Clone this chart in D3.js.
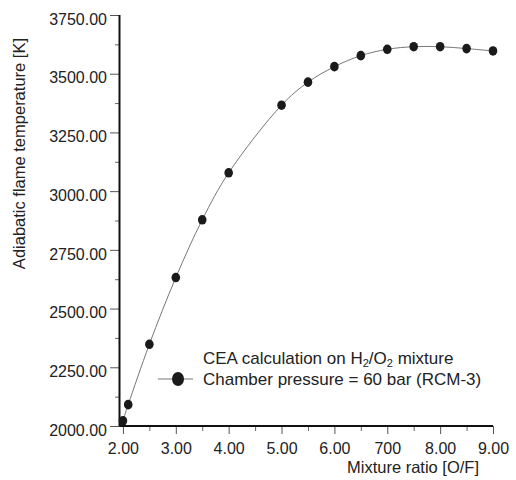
<!DOCTYPE html>
<html>
<head>
<meta charset="utf-8">
<script src="https://cdn.jsdelivr.net/npm/d3@7"></script>
<style>
  body { margin: 0; background: #fff; }
  svg { font-family: "Liberation Sans", Arial, sans-serif; }
</style>
</head>
<body>
<svg id="chart" width="516" height="480"></svg>
<script>
// O/F ratio and adiabatic flame temperature
const ratio = [2.0, 2.1, 2.5, 3.0, 3.5, 4.0, 5.0, 5.5, 6.0, 6.5, 7.0, 7.5, 8.0, 8.5, 9.0];
const temp  = [2022, 2091, 2348, 2632, 2878, 3078, 3366, 3464, 3530, 3577, 3604, 3615, 3615, 3607, 3597];

const xTicks = [2, 3, 4, 5, 6, 7, 8, 9];
const xTickLabels = ["2.00", "3.00", "4.00", "5.00", "6.00", "700", "8.00", "9.00"];
const yTicks = [2000, 2250, 2500, 2750, 3000, 3250, 3500, 3750];

const svg = d3.select("#chart");

const x = d3.scaleLinear().domain([1.935, 9]).range([119.5, 493]);
const y = d3.scaleLinear().domain([2000, 3750]).range([426, 15]);

// minor ticks
const xAxisMinor = d3.axisBottom(x).tickValues(d3.range(2.5, 9, 1)).tickSize(5).tickFormat("");
const yAxisMinor = d3.axisLeft(y).tickValues(d3.range(2125, 3750, 250)).tickSize(5).tickFormat("");

svg.append("g").attr("transform", "translate(0,426)").call(xAxisMinor)
  .call(g => g.select(".domain").remove())
  .selectAll("line").attr("stroke", "#666");
svg.append("g").attr("transform", "translate(120,0)").call(yAxisMinor)
  .call(g => g.select(".domain").remove())
  .selectAll("line").attr("stroke", "#666");

// major ticks
const xAxis = d3.axisBottom(x).tickValues(xTicks).tickSize(8).tickPadding(9)
  .tickFormat((d, i) => xTickLabels[i]);
const yAxis = d3.axisLeft(y).tickValues(yTicks).tickSize(10).tickPadding(3)
  .tickFormat(d3.format(".2f"));

svg.append("g").attr("transform", "translate(0,426)").call(xAxis)
  .call(g => g.select(".domain").remove())
  .call(g => g.selectAll("line").attr("stroke", "#555"))
  .call(g => g.selectAll("text").attr("font-size", 16).attr("fill", "#222")
    .attr("font-family", "Liberation Sans, Arial, sans-serif"));

svg.append("g").attr("transform", "translate(120,0)").call(yAxis)
  .call(g => g.select(".domain").remove())
  .call(g => g.selectAll("line").attr("stroke", "#555"))
  .call(g => g.selectAll("text").attr("font-size", 16).attr("fill", "#222")
    .attr("dy", "0.95em").attr("y", -6)
    .attr("font-family", "Liberation Sans, Arial, sans-serif"));

// axis lines
svg.append("line").attr("x1", 119.5).attr("x2", 119.5).attr("y1", y(3750)).attr("y2", 426)
  .attr("stroke", "#111").attr("stroke-width", 2);
svg.append("line").attr("x1", 119.5).attr("x2", x(9)).attr("y1", 426).attr("y2", 426)
  .attr("stroke", "#111").attr("stroke-width", 2);

// curve
const pts = ratio.map((r, i) => ({r: r, t: temp[i]}));
const line = d3.line().x(d => x(d.r)).y(d => y(d.t)).curve(d3.curveCatmullRom);

svg.append("path").datum(pts).attr("d", line)
  .attr("fill", "none").attr("stroke", "#777").attr("stroke-width", 1);

svg.append("g").selectAll("ellipse").data(pts).enter().append("ellipse")
  .attr("cx", d => x(d.r)).attr("cy", d => y(d.t))
  .attr("rx", 4.3).attr("ry", 4.8).attr("fill", "#1a1a1a");

// axis titles
svg.append("text").attr("x", 479).attr("y", 473).attr("text-anchor", "end")
  .attr("font-size", 16.5).attr("fill", "#222").text("Mixture ratio [O/F]");

svg.append("text").attr("transform", "translate(25,38) rotate(-90)")
  .attr("text-anchor", "end").attr("font-size", 16.5).attr("fill", "#222")
  .text("Adiabatic flame temperature [K]");

// legend
const legend = svg.append("g");
const t1 = legend.append("text").attr("x", 203).attr("y", 364).attr("font-size", 17).attr("fill", "#222");
t1.append("tspan").text("CEA calculation on H");
t1.append("tspan").text("2").attr("font-size", 11).attr("dy", 3);
t1.append("tspan").text("/O").attr("dy", -3);
t1.append("tspan").text("2").attr("font-size", 11).attr("dy", 3);
t1.append("tspan").text(" mixture").attr("dy", -3);

legend.append("text").attr("x", 203).attr("y", 385).attr("font-size", 17).attr("fill", "#222")
  .text("Chamber pressure = 60 bar (RCM-3)");

legend.append("line").attr("x1", 158).attr("x2", 193).attr("y1", 379).attr("y2", 379)
  .attr("stroke", "#777").attr("stroke-width", 1);
legend.append("ellipse").attr("cx", 178).attr("cy", 379).attr("rx", 6).attr("ry", 7).attr("fill", "#1a1a1a");
</script>
</body>
</html>
